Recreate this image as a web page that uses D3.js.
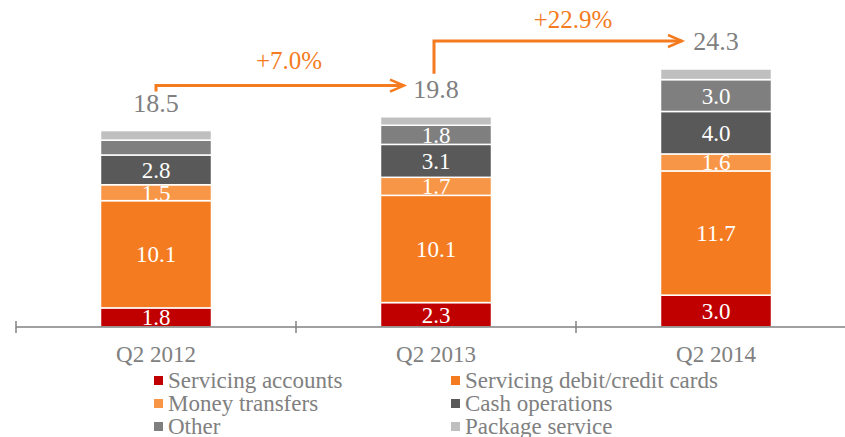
<!DOCTYPE html>
<html lang="en">
<head>
<meta charset="UTF-8">
<title>Fee income</title>
<script src="https://cdn.jsdelivr.net/npm/d3@7"></script>
<style>
body{margin:0;background:#fff}
svg text{font-family:"Liberation Serif","Times New Roman",serif}
</style>
</head>
<body>
<div class="chart"></div>
<script>
// data
let categories=['Q2 2012','Q2 2013','Q2 2014']
let seriesNames=['Servicing accounts','Servicing debit/credit cards','Money transfers','Cash operations','Other','Package service']
let accounts=[1.8,2.3,3.0]
let cards=[10.1,10.1,11.7]
let transfers=[1.5,1.7,1.6]
let cash=[2.8,3.1,4.0]
let other=[1.4,1.8,3.0]
let pack=[0.9,0.8,1.0]
let totals=[18.5,19.8,24.3]
let growth=['+7.0%','+22.9%']
let showLabel=[[true,true,true],[true,true,true],[true,true,true],[true,true,true],[false,true,true],[false,false,false]]
let colors=['#c00000','#f47b20','#f79646','#595959','#7f7f7f','#bfbfbf']

let W=845,H=437
let svg=d3.select('.chart').append('svg').attr('width',W).attr('height',H)

let axisY=327
let x=d3.scaleBand().domain(categories).range([16,856]).padding(0)
let y=d3.scaleLinear().domain([0,24.3]).range([axisY,69])
let barW=111

let rows=categories.map((c,i)=>{
    let vals=[accounts[i],cards[i],transfers[i],cash[i],other[i],pack[i]]
    let acc=0
    return vals.map((v,k)=>{let s={cat:c,k:k,v:v,y0:acc,y1:acc+v,show:showLabel[k][i]};acc+=v;return s})
})

//bars (rect then label, so the next segment covers overflow like the original)
rows.forEach(segs=>{
    let g=svg.append('g')
    segs.forEach(s=>{
        let cx=x(s.cat)+x.bandwidth()/2
        g.append('rect').attr('x',cx-barW/2).attr('width',barW)
            .attr('y',y(s.y1)).attr('height',y(s.y0)-y(s.y1))
            .attr('fill',colors[s.k]).attr('stroke','#fff').attr('stroke-width',1.5)
        if(s.show){
            g.append('text').attr('x',cx).attr('y',(y(s.y0)+y(s.y1))/2+8)
                .attr('text-anchor','middle').attr('fill','#fff').attr('font-size',23)
                .text(s.v.toFixed(1))
        }
    })
})

//axis
let axis=svg.append('g').attr('stroke','#808080').attr('stroke-width',1.5)
axis.append('line').attr('x1',16).attr('x2',W).attr('y1',axisY).attr('y2',axisY)
categories.forEach(c=>{
    axis.append('line').attr('x1',x(c)).attr('x2',x(c)).attr('y1',axisY-6).attr('y2',axisY+6)
})
svg.selectAll('.cat').data(categories).enter().append('text')
    .attr('x',d=>x(d)+x.bandwidth()/2).attr('y',axisY+35)
    .attr('text-anchor','middle').attr('fill','#808080').attr('font-size',23).text(d=>d)

//totals
let cxs=categories.map(c=>x(c)+x.bandwidth()/2)
svg.selectAll('.tot').data(totals).enter().append('text')
    .attr('x',(d,i)=>cxs[i]).attr('y',d=>y(d)-19)
    .attr('text-anchor','middle').attr('fill','#808080').attr('font-size',26).text(d=>d.toFixed(1))

//growth arrows
let orange='#f47b20'
function arrowHead(xe,ye){
    svg.append('path').attr('d',`M${xe-14},${ye-6}L${xe},${ye}L${xe-14},${ye+6}`)
        .attr('fill','none').attr('stroke',orange).attr('stroke-width',2.5)
}
let a1y=y(totals[0])-45
svg.append('path').attr('d',`M${cxs[0]},${a1y+6}V${a1y}H${cxs[1]-32}`)
    .attr('fill','none').attr('stroke',orange).attr('stroke-width',3)
arrowHead(cxs[1]-32,a1y)
svg.append('text').attr('x',(cxs[0]+cxs[1])/2-7).attr('y',a1y-17).attr('text-anchor','middle')
    .attr('fill',orange).attr('font-size',25).text(growth[0])

let a2y=y(totals[2])-28
svg.append('path').attr('d',`M${cxs[1]-2},${y(totals[1])-43}V${a2y}H${cxs[2]-34}`)
    .attr('fill','none').attr('stroke',orange).attr('stroke-width',3)
arrowHead(cxs[2]-34,a2y)
svg.append('text').attr('x',(cxs[1]+cxs[2])/2-3).attr('y',a2y-13).attr('text-anchor','middle')
    .attr('fill',orange).attr('font-size',25).text(growth[1])

//legend
let leg=svg.append('g')
seriesNames.forEach((n,i)=>{
    let lx=i%2==0?154:451
    let ly=381+Math.floor(i/2)*23
    leg.append('rect').attr('x',lx).attr('y',ly-5).attr('width',9).attr('height',9).attr('fill',colors[i])
    leg.append('text').attr('x',lx+14).attr('y',ly+7).attr('fill','#808080').attr('font-size',23).text(n)
})
</script>
</body>
</html>
